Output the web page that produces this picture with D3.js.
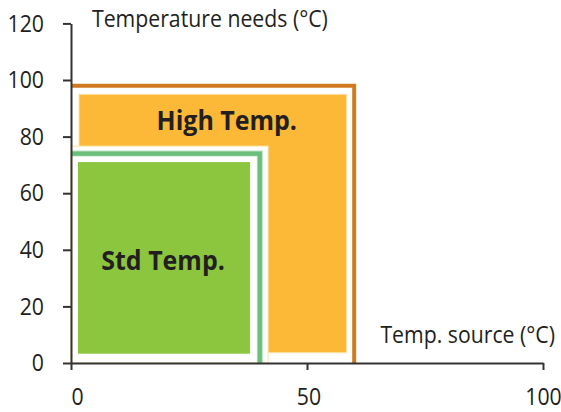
<!DOCTYPE html>
<html>
<head>
<meta charset="utf-8">
<script src="https://cdn.jsdelivr.net/npm/d3@7"></script>
<style>
  html, body { margin: 0; padding: 0; background: #fff; }
  svg { display: block; }
  text { font-family: "Open Sans", "Noto Sans", sans-serif; fill: #231f20; }
</style>
</head>
<body>
<svg id="chart" width="561" height="412"></svg>
<script>
// ---- data ----
const regions = ["High Temp.", "Std Temp."];
const sourceMax = [60, 40];     // Temp. source (°C) upper bound
const needsMax = [98, 74];      // Temperature needs (°C) upper bound
const xTicks = [0, 50, 100];
const yTicks = [0, 20, 40, 60, 80, 100, 120];
const xTitle = "Temp. source (°C)";
const yTitle = "Temperature needs (°C)";

// ---- styles ----
const fills = ["#fbb937", "#8cc63f"];
const borders = ["#cf7a21", "#6bbf7b"];
const SX = 0.885; // horizontal squeeze of the original typeface

const svg = d3.select("#chart");
const x = d3.scaleLinear().domain([0, 100]).range([71, 543]);
const y = d3.scaleLinear().domain([0, 120]).range([363, 23.4]);

function squeeze(sel, sx) {
  sel.each(function () {
    const t = d3.select(this);
    const tx = +t.attr("x") || 0, ty = +t.attr("y") || 0;
    t.attr("x", null).attr("y", null)
     .attr("transform", `translate(${tx},${ty}) scale(${sx},1)`);
  });
}

const hi = 0, st = 1;
svg.append("rect")
  .attr("x", x(0) + 8).attr("y", y(needsMax[hi]) + 8.7)
  .attr("width", x(sourceMax[hi]) - 7.5 - (x(0) + 8))
  .attr("height", y(0) - 10.3 - (y(needsMax[hi]) + 8.7))
  .attr("fill", fills[hi]).attr("stroke", "#fde2a6").attr("stroke-width", 1);

svg.append("rect")
  .attr("x", x(0)).attr("y", y(needsMax[st]) - 7.5)
  .attr("width", x(sourceMax[st]) + 8.3 - x(0))
  .attr("height", y(0) - (y(needsMax[st]) - 7.5))
  .attr("fill", "#fff").attr("stroke", "#fde2a6").attr("stroke-width", 1);

svg.append("rect")
  .attr("x", x(0) + 7).attr("y", y(needsMax[st]) + 8.5)
  .attr("width", x(sourceMax[st]) - 9.7 - (x(0) + 7))
  .attr("height", y(0) - 9.3 - (y(needsMax[st]) + 8.5))
  .attr("fill", fills[st]);

const borderPath = i => `M${x(0)},${y(needsMax[i])}H${x(sourceMax[i])}V${y(0)}`;
svg.append("path").attr("d", borderPath(hi)).attr("fill", "none")
  .attr("stroke", borders[hi]).attr("stroke-width", 4);
svg.append("path").attr("d", borderPath(st)).attr("fill", "none")
  .attr("stroke", "#b8e1bf").attr("stroke-width", 6);
svg.append("path").attr("d", borderPath(st)).attr("fill", "none")
  .attr("stroke", borders[st]).attr("stroke-width", 4.2);

const labelPos = [[33, 82.5], [19.5, 33]];
regions.forEach((r, i) => {
  svg.append("text")
    .attr("x", x(labelPos[i][0])).attr("y", y(labelPos[i][1]))
    .attr("text-anchor", "middle")
    .attr("font-size", 27).attr("font-weight", 700)
    .text(r)
    .call(squeeze, 0.925);
});

const axisColor = "#333";
const gy = svg.append("g").attr("transform", `translate(${x(0)},0)`)
  .call(d3.axisLeft(y).tickValues(yTicks).tickSize(8).tickSizeOuter(0).tickPadding(19));
const gx = svg.append("g").attr("transform", `translate(0,${y(0)})`)
  .call(d3.axisBottom(x).tickValues(xTicks).tickSize(7).tickSizeOuter(0));
[gx, gy].forEach(g => {
  g.select(".domain").attr("stroke", axisColor).attr("stroke-width", 2);
  g.selectAll(".tick line").attr("stroke", axisColor).attr("stroke-width", 2);
  g.selectAll(".tick text").attr("font-size", 24).attr("fill", "#231f20")
    .style("font-family", '"Open Sans", sans-serif');
});
gx.selectAll(".tick text").attr("y", 42).attr("dy", 0)
  .attr("x", d => d === 0 ? 6 : (d === 50 ? 1.5 : 0));
gx.selectAll(".tick text").call(squeeze, SX);
gy.selectAll(".tick text").attr("dy", 0).attr("y", 7.7);
gy.selectAll(".tick text").call(squeeze, SX);

svg.append("text").attr("x", 92).attr("y", 27).attr("font-size", 24)
  .text(yTitle).call(squeeze, SX);
svg.append("text").attr("x", 555).attr("y", 343).attr("font-size", 24)
  .attr("text-anchor", "end").text(xTitle).call(squeeze, SX);
</script>
</body>
</html>
